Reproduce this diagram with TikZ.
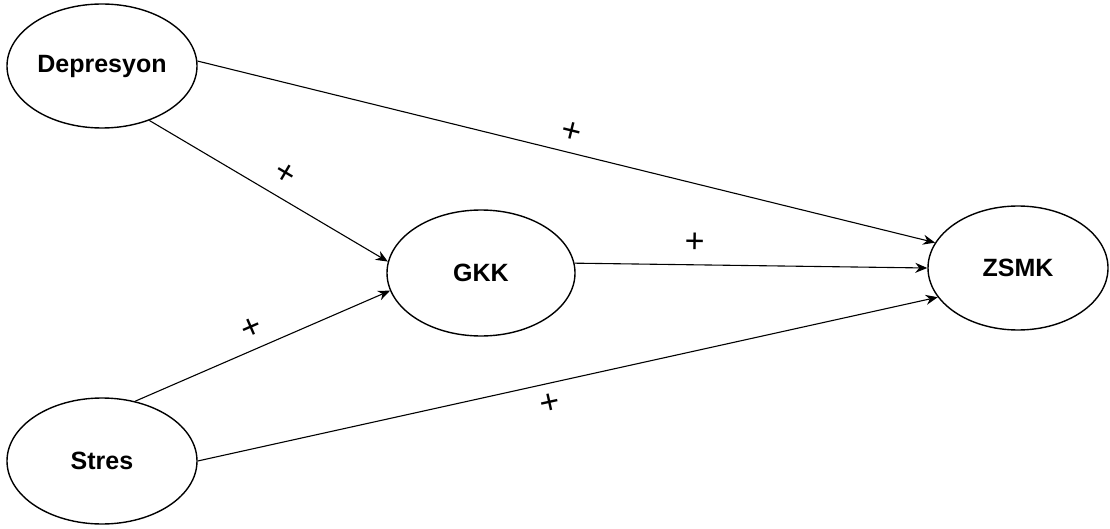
\documentclass[tikz,border=0pt]{standalone}
\usepackage{fontspec}
\setmainfont{Liberation Sans}
\usetikzlibrary{shapes.geometric,arrows.meta}
\begin{document}
\begin{tikzpicture}[x=1pt,y=-1pt,
  var/.style={draw, ellipse, line width=1.4pt, inner sep=0pt,
    font=\fontsize{25}{27}\selectfont\bfseries},
  link/.style={line width=1.1pt, -{Stealth[length=12pt,width=10pt]}},
  sign/.style={font=\fontsize{34}{34}\selectfont, sloped, inner sep=0pt}]
\useasboundingbox (0,0) rectangle (1110,529);
\node[var, minimum width=190pt, minimum height=124pt] (dep) at (102,66) {Depresyon};
\node[var, minimum width=190pt, minimum height=126pt] (str) at (102,461) {Stres};
\node[var, minimum width=188pt, minimum height=126pt] (gkk) at (481,273) {GKK};
\node[var, minimum width=180pt, minimum height=124pt] (zsmk) at (1018,268) {ZSMK};
\draw[link] (dep.3.6) -- node[sign, pos=0.5, above=10pt] {+} (zsmk.163);
\draw[link] (dep.-49) -- node[sign, pos=0.52, above=13pt] {+} (gkk.173);
\draw[link] (gkk.6.7) -- node[sign, pos=0.34, above=12pt] {+} (zsmk.180);
\draw[link] (str.61) -- node[sign, pos=0.49, above=10pt] {+} (gkk.-169);
\draw[link] (str.0.6) -- node[sign, pos=0.47, below=10pt] {+} (zsmk.-160.6);
\end{tikzpicture}
\end{document}
